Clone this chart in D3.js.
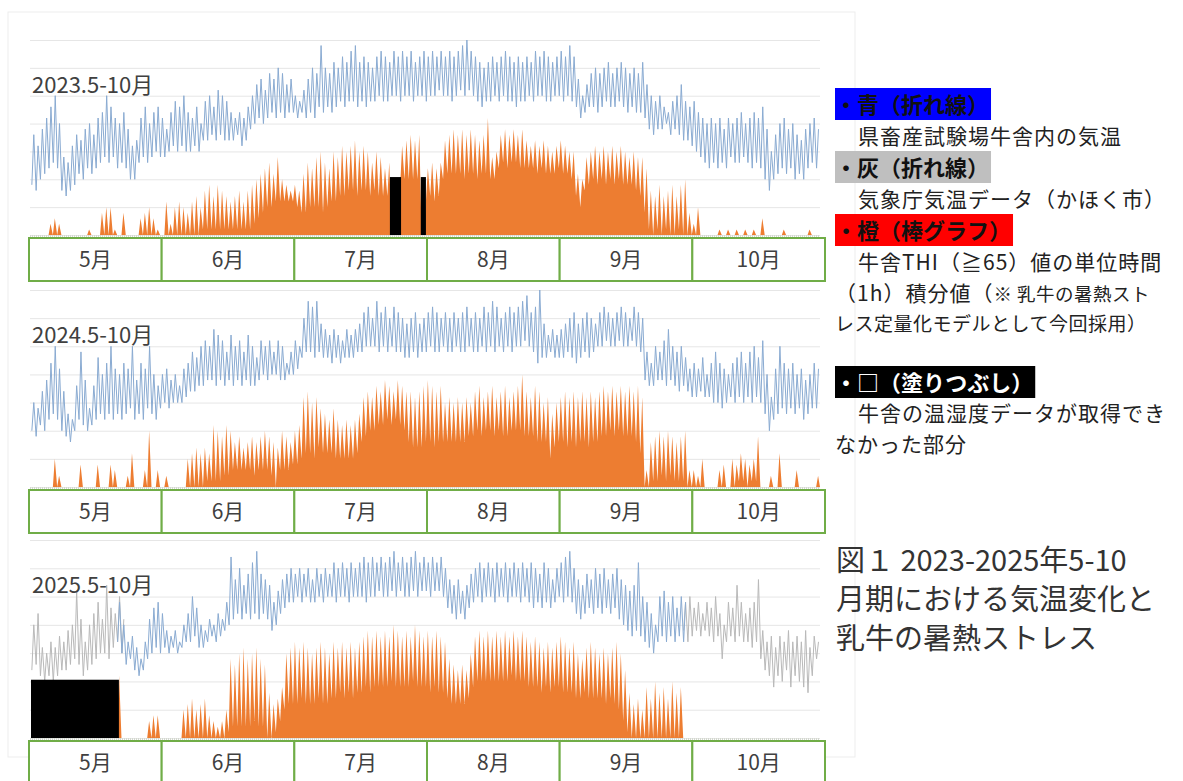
<!DOCTYPE html>
<html><head><meta charset="utf-8">
<script src="https://cdn.jsdelivr.net/npm/d3@7"></script>
<style>body{margin:0;background:#fff}text{font-family:"Noto Sans CJK JP","Noto Sans",sans-serif}</style>
</head><body>
<svg id="c" width="1183" height="781"></svg>
<script>
// ---------- categories / ticks ----------
const months = ["5月","6月","7月","8月","9月","10月"];
const monthDays = [31,30,31,31,30,31];
const tempTicks = [0,5,10,15,20,25,30,35];
const panelTitles = ["2023.5-10月","2024.5-10月","2025.5-10月"];

// ---------- 2023 (day index 0 = May 1) ----------
const tmax2023 = [18,16,19,21,23,25,20,14,13,16,18,17,19,20,18,21,22,25,23,21,20,22,19,16,17,21,23,20,22,23,21,
19,22,24,23,25,22,21,23,20,24,25,23,26,25,24,22,21,22,21,23,25,27,28,26,29,28,30,29,27,28,
25,24,26,28,30,29,34,30,29,31,30,32,31,33,34,31,32,31,30,32,33,32,31,33,32,33,32,33,31,32,33,
32,33,32,33,32,33,32,33,34,35,33,32,31,30,31,32,31,32,33,32,31,32,31,32,31,33,32,33,32,31,32,
33,32,34,32,28,25,27,29,30,29,30,31,29,30,31,30,29,30,29,31,27,25,24,25,23,22,24,25,27,24,
23,24,22,21,20,21,20,21,19,21,20,21,22,20,21,22,21,23,19,15,18,20,21,19,20,18,17,19,20,21,19];
const tmin2023 = [9,8,10,11,12,13,12,8,7,8,9,11,10,12,11,12,13,14,13,14,12,13,12,10,10,13,14,13,14,15,14,
14,15,16,15,16,15,15,16,15,17,17,18,17,18,17,17,17,18,16,17,19,20,21,20,21,22,21,22,21,22,
22,21,22,21,22,21,23,22,23,22,23,24,23,24,24,23,24,23,24,24,25,24,24,25,25,24,25,25,24,25,25,
24,25,25,26,25,25,24,25,26,25,26,25,24,23,24,24,25,24,25,24,24,23,24,24,25,24,25,25,24,24,25,
25,24,25,24,23,21,22,23,23,22,23,24,23,23,24,23,22,23,22,22,21,19,18,19,19,20,18,19,18,17,
17,16,15,14,13,12,13,12,13,12,14,13,13,14,13,12,13,12,10,8,10,11,12,11,12,10,11,10,12,13,12];
const thiPeak2023 = [0,0,0,0,2,3,2,0,0,0,0,0,0,1,0,0,4,5,5,1,0,4,0,0,0,3,4,5,3,1,0,
6,2,5,6,5,4,6,7,5,8,9,7,9,8,7,6,7,8,6,8,9,10,11,12,13,11,14,10,9,8,
9,8,11,13,12,14,15,13,12,15,14,16,15,16,17,15,16,15,13,15,14,12,13,0,0,16,17,18,17,18,0,
12,13,12,13,17,18,19,18,19,18,19,18,17,18,21,14,15,18,19,18,19,18,19,17,16,17,16,17,16,15,16,
17,16,15,15,11,10,14,15,16,15,16,15,16,15,16,15,14,15,14,14,12,8,7,9,7,8,9,7,9,10,
4,2,5,0,0,0,0,1,0,1,0,1,0,1,0,1,0,3,0,0,0,0,1,0,0,0,0,0,1,0,0];
const thiFloor2023 = [0,0,0,0,0,0,0,0,0,0,0,0,0,0,0,0,0,0,0,0,0,0,0,0,0,0,0,0,0,0,0,
0,0,0,0,0,0,0,0,0,1,1,1,1,1,1,1,1,1,1,1,1,2,3,4,5,5,6,6,6,6,
6,5,4,4,5,5,5,4,5,6,6,7,7,8,8,7,8,8,7,8,7,7,7,0,0,9,10,10,10,10,0,
6,7,6,7,10,11,11,11,11,10,11,11,10,11,11,10,10,12,13,12,13,13,12,12,12,12,11,12,11,11,11,
12,11,11,10,7,5,8,9,10,9,10,9,10,9,10,9,9,9,8,7,4,1,0,1,0,1,0,0,1,0,
0,0,0,0,0,0,0,0,0,0,0,0,0,0,0,0,0,0,0,0,0,0,0,0,0,0,0,0,0,0,0];
const missingStart2023 = [83.7, 90.9];
const missingEnd2023 = [86.3, 92.1];

// ---------- 2024 ----------
const tmax2024 = [15,14,17,19,22,25,21,17,13,12,18,24,19,14,18,23,20,22,25,21,20,22,21,25,19,22,21,25,20,18,20,
21,19,20,18,21,22,24,23,25,26,25,28,27,26,24,27,25,26,24,27,25,23,26,25,26,24,26,25,22,24,
26,25,30,33,32,33,29,28,27,28,27,26,28,27,28,29,31,32,30,33,31,32,30,32,31,30,29,30,31,29,30,
31,32,31,30,31,30,31,30,31,32,30,31,30,32,31,33,32,30,31,32,31,32,33,34,31,32,35,29,27,28,27,
28,29,30,31,29,30,31,30,29,31,32,31,30,31,32,31,30,32,31,30,24,22,25,24,26,28,25,24,25,23,
21,22,21,23,20,22,24,22,21,20,22,23,24,22,24,25,23,26,20,16,21,25,22,21,22,20,21,19,20,22,21];
const tmin2024 = [10,9,11,10,12,13,12,10,9,8,10,12,11,10,11,12,13,12,13,12,13,12,13,14,12,13,12,14,13,12,14,
15,14,15,15,15,16,17,17,18,18,19,19,18,19,18,19,18,19,18,19,18,18,19,20,19,20,20,19,19,20,
20,21,23,24,24,23,24,23,23,22,23,22,23,23,23,24,24,25,25,25,24,25,24,25,24,24,23,23,24,23,24,
24,25,24,24,25,24,24,25,24,24,25,24,24,25,24,25,24,25,24,25,24,25,25,26,25,24,22,23,23,24,23,
23,23,24,23,22,23,24,23,24,25,25,26,25,25,26,25,25,26,25,24,19,18,18,19,19,18,19,18,17,18,
17,16,16,17,16,16,15,15,14,15,16,15,16,15,16,15,16,15,13,10,12,13,14,13,14,13,14,12,13,14,14];
const thiPeak2024 = [0,0,0,0,0,5,2,0,0,0,0,4,0,0,0,4,0,0,4,3,0,0,2,6,0,0,3,10,0,3,0,
2,0,0,0,0,5,6,7,6,7,6,11,10,9,11,10,8,9,7,8,9,8,9,10,9,8,7,10,9,8,
10,11,16,17,15,16,14,13,12,14,12,11,12,11,12,13,16,17,16,18,17,19,18,17,19,18,17,17,16,17,18,
19,18,17,18,15,16,15,16,15,16,15,17,18,16,17,18,16,17,18,16,17,18,20,17,16,18,17,15,16,13,15,
16,17,16,17,16,17,16,17,16,17,18,17,18,17,18,17,18,17,18,16,3,8,9,10,9,10,9,8,9,10,
3,3,2,5,0,0,0,3,4,0,5,4,6,5,4,5,9,0,0,2,0,6,0,0,0,3,0,0,0,0,2];
const thiFloor2024 = [0,0,0,0,0,0,0,0,0,0,0,0,0,0,0,0,0,0,0,0,0,0,0,0,0,0,0,0,0,0,0,
0,0,0,0,0,0,0,0,0,0,1,1,1,1,2,2,3,3,3,3,3,2,3,3,3,2,0,3,3,3,
4,4,5,6,6,5,7,6,6,6,5,5,5,5,5,6,8,9,10,10,11,11,12,11,12,11,10,8,7,7,7,
8,8,7,8,8,8,8,8,8,8,9,9,10,9,10,10,9,10,9,9,10,10,10,9,9,9,8,8,8,5,7,
8,8,7,8,7,8,8,7,8,8,9,9,10,9,10,9,9,9,8,6,0,0,1,1,2,1,2,1,1,1,
0,0,0,0,0,0,0,0,0,0,0,0,1,1,0,1,1,0,0,0,0,0,0,0,0,0,0,0,0,0,0];

// ---------- 2025 ----------
const barnStart2025 = 20; // barn temperature series begins on May 21
const tmax2025 = [24,20,17,18,16,14,17,21,23,24,22,
19,18,19,17,20,22,25,23,20,19,21,20,22,21,24,32,28,30,27,29,31,33,29,28,27,24,26,28,29,30,
29,30,29,30,28,30,29,30,29,31,30,31,30,31,30,31,32,31,32,31,32,31,32,33,31,32,31,32,33,31,32,
31,32,31,32,30,28,27,28,26,27,29,30,31,30,31,30,31,30,31,30,31,30,31,30,31,30,29,31,30,28,30,
31,32,33,30,28,27,29,28,30,29,30,28,29,30,28,27,26,27,31,25,24,22,20,25,26,24,25,23,25,24];
const tmin2025 = [17,15,13,14,12,11,12,14,15,16,15,
16,15,16,15,16,17,17,18,16,16,17,18,17,18,19,20,21,22,21,22,21,22,21,22,21,19,20,22,23,24,
24,25,24,25,24,24,25,24,25,25,24,25,25,24,25,25,25,24,25,25,26,25,25,26,25,26,25,25,26,25,26,
26,25,26,26,25,23,22,21,22,21,23,24,25,24,25,25,24,25,25,24,25,25,24,25,24,23,24,23,24,23,24,
25,24,25,24,22,21,22,23,22,23,22,23,22,23,21,20,19,18,19,18,17,16,15,17,18,17,18,17,18,17];
const jmaStartA2025 = 0, jmaStartB2025 = 152;
const jmaMaxA2025 = [20,22,16,15,17,16,18,17,19,20,26,21,17,20,22,24,21,27,23,22,25,21];
const jmaMinA2025 = [12,13,11,10,11,10,11,12,12,13,14,13,11,12,13,14,15,15,14,16,17,15];
const jmaMaxB2025 = [24,25,23,24,22,24,23,25,22,20,24,23,27,24,22,23,24,28,19,17,18,16,18,17,19,17,18,17,19,16,18,17];
const jmaMinB2025 = [19,17,18,19,18,19,18,17,18,14,17,18,17,18,17,17,16,17,14,12,11,9,11,10,12,9,11,10,9,8,11,14];
const thiPeak2025 = [0,0,0,0,0,0,0,0,0,0,0,0,0,0,0,0,0,0,0,0,11,0,0,0,0,0,0,3,4,4,0,
0,0,0,0,5,6,7,5,6,7,4,3,2,3,5,14,13,15,16,14,15,16,14,13,8,6,7,9,15,16,
17,16,17,16,15,16,17,16,15,17,16,17,16,17,16,17,18,19,18,19,18,19,18,20,19,18,19,18,20,19,18,
19,18,19,18,17,14,13,12,13,12,15,18,19,18,19,18,19,18,19,18,19,18,19,18,17,18,17,16,17,16,17,
18,17,16,17,15,14,16,17,16,15,16,15,16,17,15,12,8,6,7,5,9,7,10,8,9,7,10,8,9,0,
0,0,0,0,0,0,0,0,0,0,0,0,0,0,0,0,0,0,0,0,0,0,0,0,0,0,0,0,0,0,0];
const thiFloor2025 = [0,0,0,0,0,0,0,0,0,0,0,0,0,0,0,0,0,0,0,0,0,0,0,0,0,0,0,0,0,0,0,
0,0,0,0,0,0,0,0,0,0,0,0,0,0,0,1,2,2,2,2,2,3,2,2,0,0,1,3,5,6,
6,6,7,6,6,6,7,6,6,7,7,8,7,8,7,8,8,9,8,9,9,9,9,10,9,9,9,9,10,9,9,
9,8,9,8,8,7,6,6,6,6,7,9,10,10,10,10,10,10,10,10,11,10,10,10,9,9,9,8,9,8,9,
9,8,8,8,7,7,8,7,7,7,7,6,7,6,5,3,1,0,0,0,0,0,0,0,0,0,0,0,0,0,
0,0,0,0,0,0,0,0,0,0,0,0,0,0,0,0,0,0,0,0,0,0,0,0,0,0,0,0,0,0,0];
const missingStart2025 = [0];
const missingEnd2025 = [20.5];
const missingLevel = [10.4, 0, 10.3];

// ---------- legend / caption texts ----------
const legendLabels = ["・青（折れ線）","・灰（折れ線）","・橙（棒グラフ）","・□（塗りつぶし）"];
const legendColors = ["#0000FF","#BFBFBF","#FF0000","#000000"];
const legendTextColors = ["#111","#111","#111","#fff"];
const captionLines = ["図１ 2023-2025年5-10","月期における気温変化と","乳牛の暑熱ストレス"];

// ---------- assemble ----------
const panels = [
  {tmax:tmax2023,tmin:tmin2023,tStart:0,peak:thiPeak2023,floor:thiFloor2023,ms:missingStart2023,me:missingEnd2023,jma:[]},
  {tmax:tmax2024,tmin:tmin2024,tStart:0,peak:thiPeak2024,floor:thiFloor2024,ms:[],me:[],jma:[]},
  {tmax:tmax2025,tmin:tmin2025,tStart:barnStart2025,peak:thiPeak2025,floor:thiFloor2025,ms:missingStart2025,me:missingEnd2025,
   jma:[{s:jmaStartA2025,mx:jmaMaxA2025,mn:jmaMinA2025},{s:jmaStartB2025,mx:jmaMaxB2025,mn:jmaMinB2025}]}
];
const totalDays = d3.sum(monthDays);

const svg = d3.select("#c");
svg.append("rect").attr("x",8).attr("y",12).attr("width",847).attr("height",745)
  .attr("fill","none").attr("stroke","#ededed");

const x = d3.scaleLinear().domain([0,totalDays]).range([31,820]);
const mBand = d3.scaleBand().domain(months).range([29,825]);
const panelTop = [40,290,540], panelBase = [235,487,738], boxTop = [238,490,741];

function zig(mins, maxs, start){
  const pts = [];
  mins.forEach((mn,i)=>{ pts.push([start+i+0.2, mn],[start+i+0.65, maxs[i]]); });
  return pts;
}

panels.forEach((p,k)=>{
  const y = d3.scaleLinear().domain([0,35]).range([panelBase[k], panelTop[k]]);
  const yT = d3.scaleLinear().domain([0,35]).range([panelBase[k], panelTop[k]]);
  const g = svg.append("g");
  g.selectAll("line.grid").data(tempTicks).join("line")
    .attr("x1",30).attr("x2",820).attr("y1",d=>y(d)+0.5).attr("y2",d=>y(d)+0.5)
    .attr("stroke","#e6e6e6").attr("stroke-width",1);

  // THI area (orange)
  const tp = [[0,0]];
  p.peak.forEach((v,i)=>{ tp.push([i+0.1,p.floor[i]],[i+0.55,v]); });
  tp.push([totalDays,0]);
  g.append("path").datum(tp)
    .attr("d", d3.area().x(d=>x(d[0])).y0(yT(0)).y1(d=>yT(d[1])))
    .attr("fill","#ED7D31");

  // JMA gray line
  p.jma.forEach(seg=>{
    g.append("path").datum(zig(seg.mn, seg.mx, seg.s))
      .attr("d", d3.line().x(d=>x(d[0])).y(d=>y(d[1])))
      .attr("fill","none").attr("stroke","#b9b9b9").attr("stroke-width",1);
  });
  // barn blue line
  g.append("path").datum(zig(p.tmin, p.tmax, p.tStart))
    .attr("d", d3.line().x(d=>x(d[0])).y(d=>y(d[1])))
    .attr("fill","none").attr("stroke","#8aabd2").attr("stroke-width",1);

  // missing data
  p.ms.forEach((s,i)=>{
    g.append("rect").attr("x",x(s)).attr("width",x(p.me[i])-x(s))
      .attr("y",yT(missingLevel[k])).attr("height",yT(0)-yT(missingLevel[k])).attr("fill","#000");
  });

  // baseline dotted
  g.append("line").attr("x1",30).attr("x2",820).attr("y1",panelBase[k]+1).attr("y2",panelBase[k]+1)
    .attr("stroke","#d4d9cf").attr("stroke-width",2).attr("stroke-dasharray","1,1");

  // title
  g.append("text").attr("x",32).attr("y",panelTop[k]+53).attr("font-size",22).attr("fill","#404040")
    .text(panelTitles[k]);

  // month boxes
  const mb = g.selectAll("g.m").data(months).join("g");
  mb.append("rect").attr("x",d=>mBand(d)).attr("y",boxTop[k]).attr("width",mBand.bandwidth()).attr("height",43)
    .attr("fill","#fff").attr("stroke","#70AD47").attr("stroke-width",2);
  mb.append("text").attr("x",d=>mBand(d)+mBand.bandwidth()/2).attr("y",boxTop[k]+29)
    .attr("text-anchor","middle").attr("font-size",21).attr("fill","#404040").text(d=>d);
});

// ---------- legend ----------
const lg = svg.append("g");
const labelTops = [88,151,214,366];
legendLabels.forEach((t,i)=>{
  const tx = lg.append("text").attr("x",835).attr("y",labelTops[i]+25).attr("font-size",22)
    .attr("font-weight",700).attr("fill",legendTextColors[i]).text(t);
  const w = tx.node().getComputedTextLength();
  lg.insert("rect","text").attr("x",835).attr("y",labelTops[i]).attr("width",w+2).attr("height",32)
    .attr("fill",legendColors[i]);
});
function line(txt, xx, yy, fs, ls){
  return lg.append("text").attr("x",xx).attr("y",yy).attr("font-size",fs)
    .attr("letter-spacing",ls||0).attr("fill","#222").text(txt);
}
line("県畜産試験場牛舎内の気温",858,144,21,1);
line("気象庁気温データ（かほく市）",858,207,21,1);
line("牛舎THI（≧65）値の単位時間",858,270,21,1);
const l7 = lg.append("text").attr("x",835).attr("y",301).attr("fill","#222").attr("font-size",21).attr("letter-spacing",1);
l7.append("tspan").text("（1h）積分値（");
l7.append("tspan").attr("font-size",18.5).attr("letter-spacing",0.5).text("※ 乳牛の暑熱スト");
line("レス定量化モデルとして今回採用）",835,331,19,0.5);
line("牛舎の温湿度データが取得でき",858,421,21,1);
line("なかった部分",835,452,21,1);

// caption
captionLines.forEach((t,i)=>{
  svg.append("text").attr("x",836).attr("y",571+i*39).attr("font-size",29).attr("fill","#333").text(t);
});
</script>
</body></html>
